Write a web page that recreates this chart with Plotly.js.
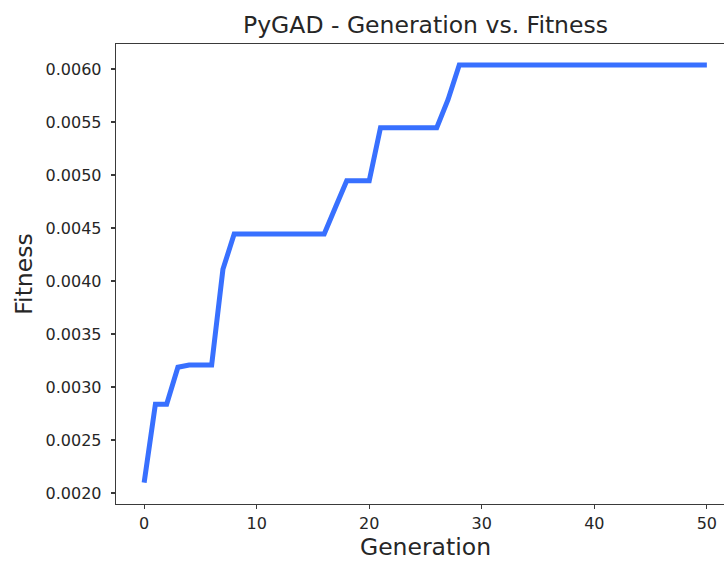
<!DOCTYPE html>
<html>
<head>
<meta charset="utf-8">
<script src="https://cdn.plot.ly/plotly-3.0.1.min.js"></script>
<style>
html, body { margin: 0; padding: 0; overflow: hidden; background: #fff; width: 724px; height: 561px; }
#chart { width: 740px; height: 561px; }
</style>
</head>
<body>
<div id="chart"></div>
<script>
const generations = [0,1,2,3,4,5,6,7,8,9,10,11,12,13,14,15,16,17,18,19,20,21,22,23,24,25,26,27,28,29,30,31,32,33,34,35,36,37,38,39,40,41,42,43,44,45,46,47,48,49,50];
const fitness = [
  0.002097, 0.002837, 0.002837, 0.003186, 0.003208, 0.003208, 0.003208, 0.004110, 0.004443, 0.004443,
  0.004443, 0.004443, 0.004443, 0.004443, 0.004443, 0.004443, 0.004443, 0.004695, 0.004946, 0.004946,
  0.004946, 0.005447, 0.005447, 0.005447, 0.005447, 0.005447, 0.005447, 0.005710, 0.006038, 0.006038,
  0.006038, 0.006038, 0.006038, 0.006038, 0.006038, 0.006038, 0.006038, 0.006038, 0.006038, 0.006038,
  0.006038, 0.006038, 0.006038, 0.006038, 0.006038, 0.006038, 0.006038, 0.006038, 0.006038, 0.006038,
  0.006038
];
const xTickVals = [0, 10, 20, 30, 40, 50];
const yTickVals = [0.0020, 0.0025, 0.0030, 0.0035, 0.0040, 0.0045, 0.0050, 0.0055, 0.0060];
const titleText = "PyGAD - Generation vs. Fitness";
const xLabel = "Generation";
const yLabel = "Fitness";

const font = "DejaVu Sans, sans-serif";
const textColor = "#262626";
const axisColor = "#3a3a3a";

const trace = {
  x: generations,
  y: fitness,
  type: "scatter",
  mode: "lines",
  line: { color: "#3870FF", width: 5 },
  hoverinfo: "skip"
};

const layout = {
  width: 740,
  height: 561,
  margin: { l: 116, r: 5, t: 44, b: 57 },
  paper_bgcolor: "#ffffff",
  plot_bgcolor: "#ffffff",
  showlegend: false,
  font: { family: font, color: textColor, size: 16 },
  title: {
    text: titleText,
    font: { family: font, size: 23.5, color: textColor },
    x: 0.5, xref: "paper", xanchor: "center",
    y: 1 - 25 / 561, yref: "container", yanchor: "middle"
  },
  xaxis: {
    range: [-2.5, 52.5],
    tickvals: xTickVals,
    ticktext: xTickVals.map(String),
    ticks: "outside", ticklen: 4, tickwidth: 1.2, tickcolor: axisColor,
    showgrid: false, zeroline: false,
    showline: true, linecolor: axisColor, linewidth: 1.3, mirror: true,
    tickfont: { family: font, size: 16, color: textColor },
    title: { text: xLabel, font: { family: font, size: 23.5, color: textColor }, standoff: 7 }
  },
  yaxis: {
    range: [0.001896, 0.006236],
    tickvals: yTickVals,
    tickformat: ".4f",
    ticks: "outside", ticklen: 4, tickwidth: 1.2, tickcolor: axisColor,
    ticklabelstandoff: 6,
    showgrid: false, zeroline: false,
    showline: true, linecolor: axisColor, linewidth: 1.3, mirror: false,
    tickfont: { family: font, size: 16, color: textColor },
    title: { text: yLabel, font: { family: font, size: 23.5, color: textColor }, standoff: 6 }
  }
};

Plotly.newPlot("chart", [trace], layout, { staticPlot: true, displayModeBar: false });
</script>
</body>
</html>
